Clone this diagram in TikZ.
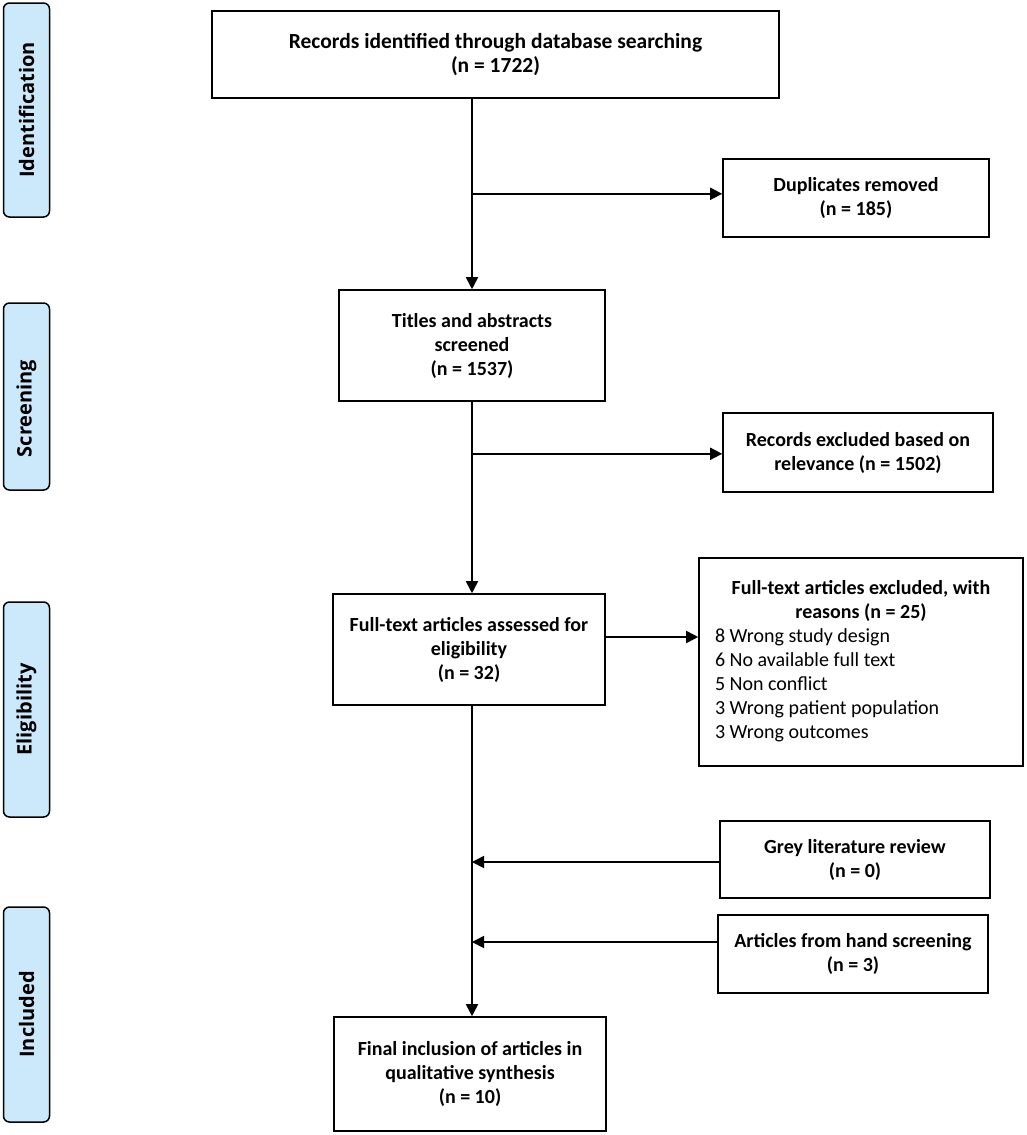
\documentclass[tikz,border=0pt]{standalone}
\usepackage{fontspec}
\setmainfont{Carlito}
\newfontfamily\sidefont{Open Sans}
\usetikzlibrary{arrows.meta,calc}
\definecolor{sideblue}{RGB}{204,233,252}
\tikzset{
  box/.style={draw=black, line width=1.6pt, fill=white, align=center, inner sep=0pt,
    font=\fontsize{20}{24}\selectfont\bfseries},
  side/.style={draw=black, line width=1.5pt, fill=sideblue, rounded corners=6pt, inner sep=0pt,
    minimum width=46pt},
  sidelabel/.style={rotate=90, font=\sidefont\fontsize{20}{22}\selectfont\bfseries},
  conn/.style={line width=1.8pt, draw=black},
  arr/.style={conn, -{Triangle[length=12pt,width=12pt]}},
}
\begin{document}
\begin{tikzpicture}[x=1pt,y=-1pt]
\useasboundingbox (0,0) rectangle (1026,1135);
% side phase boxes
\node[side, minimum height=214pt] (sid) at (26.5,110) {};
\node[sidelabel] (sidt) at (sid) {Identification};
\node[side, minimum height=187pt] (sscr) at (26.5,396.5) {};
\node[sidelabel] (sscrt) at ($(sscr)+(0,12)$) {Screening};
\node[side, minimum height=215pt] (sel) at (26.5,709.5) {};
\node[sidelabel] (selt) at (sel) {Eligibility};
\node[side, minimum height=215pt] (sinc) at (26.5,1014.5) {};
\node[sidelabel] (sinct) at (sinc) {Included};
% main boxes
\node[box, minimum width=567pt, minimum height=87pt, font=\fontsize{21.5}{24}\selectfont\bfseries] (rec) at (495.5,54.5)
  {Records identified through database searching\\(n = 1722)};
\node[box, minimum width=266pt, minimum height=78pt] (dup) at (856,198)
  {Duplicates removed\\(n = 185)};
\node[box, minimum width=266pt, minimum height=111pt] (tit) at (472,345.5)
  {Titles and abstracts\\screened\\(n = 1537)};
\node[box, minimum width=270pt, minimum height=79pt] (exa) at (858,452.5)
  {Records excluded based on\\relevance (n = 1502)};
\node[box, minimum width=272pt, minimum height=111pt] (ft) at (469,649.5)
  {Full-text articles assessed for\\eligibility\\(n = 32)};
\node[box, minimum width=324pt, minimum height=208pt] (exb) at (861,662)
  {\def\arraystretch{1}\begin{tabular}{@{}l@{}}
   \makebox[292pt][c]{Full-text articles excluded, with}\\
   \makebox[292pt][c]{reasons (n = 25)}\\
   \mdseries 8 Wrong study design\\
   \mdseries 6 No available full text\\
   \mdseries 5 Non conflict\\
   \mdseries 3 Wrong patient population\\
   \mdseries 3 Wrong outcomes
   \end{tabular}};
\node[box, minimum width=270pt, minimum height=77pt] (grey) at (855,859.5)
  {Grey literature review\\(n = 0)};
\node[box, minimum width=270pt, minimum height=78pt] (hand) at (853,954)
  {Articles from hand screening\\(n = 3)};
\node[box, minimum width=272pt, minimum height=114pt] (fin) at (470,1074)
  {Final inclusion of articles in\\qualitative synthesis\\(n = 10)};
% connectors
\coordinate (top1) at (rec.south -| tit.north);
\coordinate (j1) at ($(top1)+(0,95)$);
\draw[conn] (top1) -- (j1);
\draw[arr] (j1) -- (tit.north);
\draw[arr] (j1) -- (j1 -| dup.west);
\coordinate (j2) at ($(tit.south)+(0,52)$);
\draw[conn] (tit.south) -- (j2);
\draw[arr] (j2) -- (j2 |- ft.north);
\draw[arr] (j2) -- (j2 -| exa.west);
\coordinate (e3) at ($(ft.east)+(0,-12.5)$);
\draw[arr] (e3) -- (e3 -| exb.west);
\coordinate (sp) at ($(fin.north)+(2,0)$);
\draw[arr] (ft.south -| sp) -- (sp);
\coordinate (g1) at ($(grey.west)+(0,2.5)$);
\draw[arr] (g1) -- (g1 -| sp);
\coordinate (h1) at ($(hand.west)+(0,-12)$);
\draw[arr] (h1) -- (h1 -| sp);
\end{tikzpicture}
\end{document}
